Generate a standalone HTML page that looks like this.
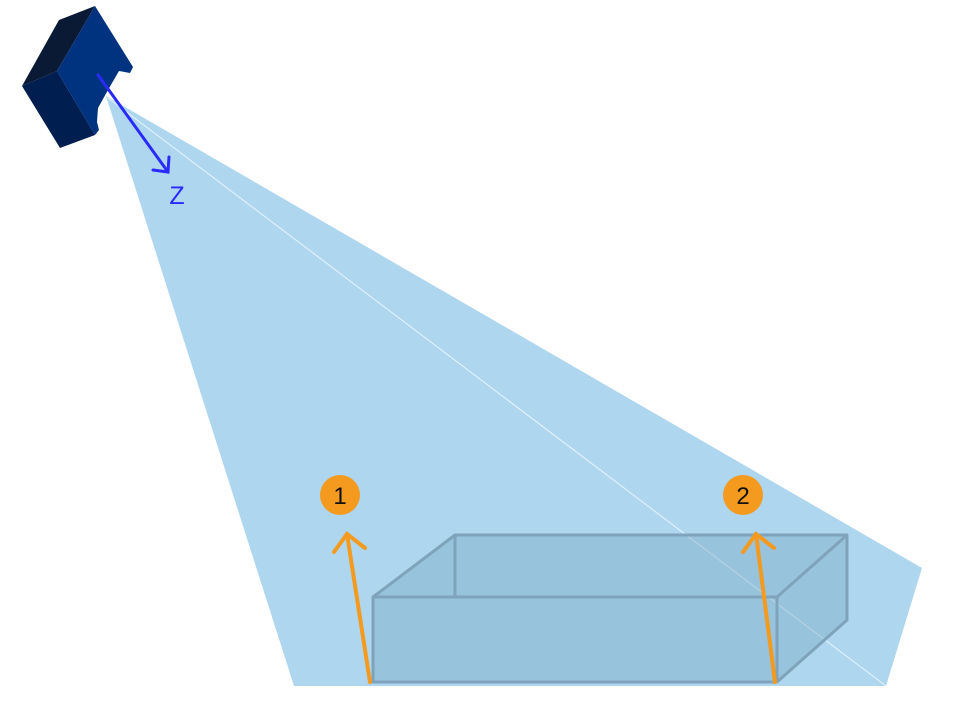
<!DOCTYPE html>
<html><head><meta charset="utf-8"><style>html,body{margin:0;padding:0;background:#fff}svg{display:block}</style></head>
<body>
<svg width="953" height="721" viewBox="0 0 953 721" xmlns="http://www.w3.org/2000/svg">
<polygon points="106,96 922,568 886,686 294,686" fill="#aed7ef"/>
<line x1="108" y1="98" x2="886" y2="686" stroke="#e8f4fb" stroke-width="1"/>
<g fill="#7faac5" fill-opacity="0.45" stroke="#7ea3bb" stroke-width="3" stroke-linejoin="round">
<polygon points="373,597 455,535 847,535 847,620 777,682 373,682"/>
</g>
<g fill="none" stroke="#7ea3bb" stroke-width="3">
<polyline points="373,597 777,597 847,535"/>
<line x1="455" y1="535" x2="455" y2="597"/>
<line x1="777" y1="597" x2="777" y2="682"/>
</g>
<g stroke="#f39a1f" stroke-width="4" fill="none" stroke-linecap="round">
<line x1="370" y1="682" x2="347" y2="534"/>
<polyline points="334,552 347,534 365,548"/>
<line x1="775" y1="682" x2="756" y2="534"/>
<polyline points="743,552 756,534 774,548"/>
</g>
<circle cx="340" cy="495" r="20" fill="#f39a1f"/>
<circle cx="743" cy="495" r="20" fill="#f39a1f"/>
<text x="340" y="504" font-family="Liberation Sans, sans-serif" font-size="24" text-anchor="middle" fill="#111">1</text>
<text x="743" y="504" font-family="Liberation Sans, sans-serif" font-size="24" text-anchor="middle" fill="#111">2</text>
<polygon points="22,86 59,20 95,6 57,71" fill="#0a1a35"/>
<polygon points="22,86 57,71 95,135 60,148" fill="#001e4f"/>
<polygon points="57,71 95,6 133,67 130,73 119,71 108,90 98,108 97,122 99,130 95,135" fill="#00337f"/>
<g stroke="#2a2aff" stroke-width="3" fill="none" stroke-linecap="round">
<line x1="98" y1="75" x2="168" y2="172"/>
<polyline points="153,170 168,172 169,157"/>
</g>
<text x="177" y="204" font-family="Liberation Sans, sans-serif" font-size="25" text-anchor="middle" fill="#2a2aff">Z</text>
</svg>
</body></html>
